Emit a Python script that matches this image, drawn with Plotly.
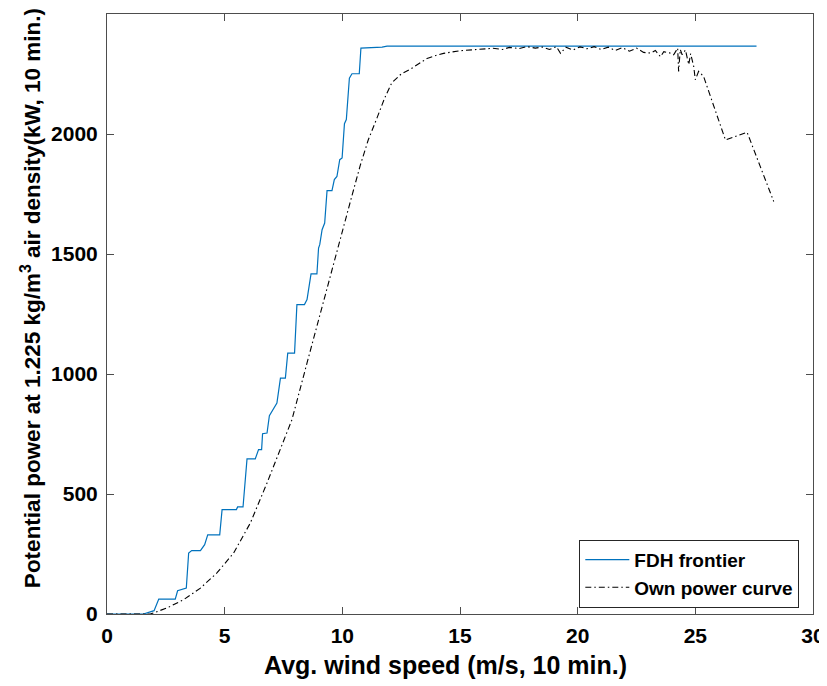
import plotly.graph_objects as go

# FDH frontier (step-like envelope)
fdh_x = [0, 1.55, 2.0, 2.2, 2.9, 3.0, 3.37, 3.47, 3.6, 3.97, 4.15, 4.28, 4.79, 4.89, 5.5, 5.55,
         5.78, 5.95, 6.3, 6.44, 6.57, 6.61, 6.8, 6.9, 7.22, 7.37, 7.58, 7.68, 7.97, 8.07, 8.39,
         8.5, 8.67, 8.92, 8.99, 9.04, 9.14, 9.25, 9.35, 9.56, 9.66, 9.77, 9.89, 9.99, 10.09,
         10.17, 10.30, 10.41, 10.72, 10.79, 11.69, 11.9, 27.6]
fdh_y = [0, 0, 14, 62, 62, 97, 108, 254, 264, 264, 289, 330, 330, 435, 435, 446,
         446, 646, 646, 685, 685, 751, 754, 826, 879, 983, 983, 1087, 1087, 1289, 1289,
         1310, 1417, 1417, 1525, 1539, 1601, 1629, 1764, 1764, 1810, 1823, 1893, 1900, 2043,
         2060, 2233, 2251, 2251, 2358, 2362, 2366, 2366]

# Own power curve
own_x = [0, 1.84, 2.55, 3.26, 3.97, 4.67, 5.38, 6.09, 6.8, 7.5, 7.86, 8.5, 9.14, 9.5, 10.0,
         10.4, 10.77, 11.1, 11.47, 11.8, 12.1, 12.5, 12.89, 13.3, 13.6, 14.0, 14.3, 15.0, 15.7,
         16.4, 16.8, 17.1, 17.5, 17.85, 18.2, 18.5, 18.8, 19.1, 19.27, 19.5, 19.8, 20.1, 20.4,
         20.7, 21.0, 21.3, 21.6, 21.9, 22.2, 22.5, 22.8, 23.1, 23.3, 23.52, 23.66, 23.9, 24.08,
         24.2, 24.25, 24.29, 24.36, 24.44, 24.58, 24.72, 24.8, 24.93, 25.0, 25.14, 25.21, 25.35,
         26.28, 27.2, 28.33]
own_y = [0, 0, 25, 60, 108, 171, 254, 379, 546, 726, 810, 1046, 1280, 1420, 1601,
         1740, 1872, 1975, 2066, 2150, 2213, 2250, 2270, 2295, 2315, 2328, 2336, 2347, 2353,
         2357, 2352, 2361, 2356, 2364, 2358, 2362, 2352, 2364, 2336, 2362, 2350, 2363, 2355,
         2364, 2352, 2362, 2348, 2360, 2345, 2358, 2340, 2337, 2348, 2322, 2343, 2338, 2330,
         2350, 2358, 2261, 2352, 2330, 2350, 2289, 2335, 2282, 2226, 2261, 2254, 2240,
         1975, 2007, 1719]

x_ticks = [0, 5, 10, 15, 20, 25, 30]
y_ticks = [0, 500, 1000, 1500, 2000, 2500]
x_title = "Avg. wind speed (m/s, 10 min.)"
y_title = "Potential power at 1.225 kg/m<sup>3</sup> air density(kW, 10 min.)"

FONT = "Liberation Sans, Arial, sans-serif"

fig = go.Figure()
fig.add_trace(go.Scatter(x=fdh_x, y=fdh_y, mode="lines", name="FDH frontier",
                         line=dict(color="#0072BD", width=1.2)))
fig.add_trace(go.Scatter(x=own_x, y=own_y, mode="lines", name="Own power curve",
                         line=dict(color="black", width=1.1, dash="6px,3px,1.5px,3px")))

axis_common = dict(showgrid=False, zeroline=False, showline=True, mirror="ticks",
                   linecolor="#4d4d4d", linewidth=1, ticks="inside", ticklen=7,
                   tickcolor="#4d4d4d", tickwidth=1, automargin=False,
                   tickfont=dict(family=FONT, size=21, color="black", weight="bold"))

fig.update_xaxes(range=[0, 30], tickvals=x_ticks, ticktext=[str(v) for v in x_ticks],
                 ticklabelstandoff=3, **axis_common)
fig.update_yaxes(range=[0, 2500], tickvals=y_ticks, ticktext=[str(v) for v in y_ticks],
                 ticklabelstandoff=4, **axis_common)

fig.add_annotation(text=x_title, xref="paper", yref="paper", x=0.479, y=-0.085,
                   xanchor="center", yanchor="middle", showarrow=False,
                   font=dict(family=FONT, size=25, color="black", weight="bold"))
fig.add_annotation(text=y_title, xref="paper", yref="paper", x=-0.1086, y=0.527,
                   xanchor="center", yanchor="middle", showarrow=False, textangle=-90,
                   font=dict(family=FONT, size=22.5, color="black", weight="bold"))

fig.update_layout(
    width=819, height=678, autosize=False,
    margin=dict(l=99, r=14, t=6, b=72),
    plot_bgcolor="white", paper_bgcolor="white",
    font=dict(family=FONT, color="black"),
    legend=dict(x=0.9806, y=0.0105, xanchor="right", yanchor="bottom",
                bordercolor="#262626", borderwidth=1, bgcolor="white",
                font=dict(family=FONT, size=19, color="black", weight="bold"),
                tracegroupgap=0, itemwidth=44),
)

fig.write_html("out.html")
